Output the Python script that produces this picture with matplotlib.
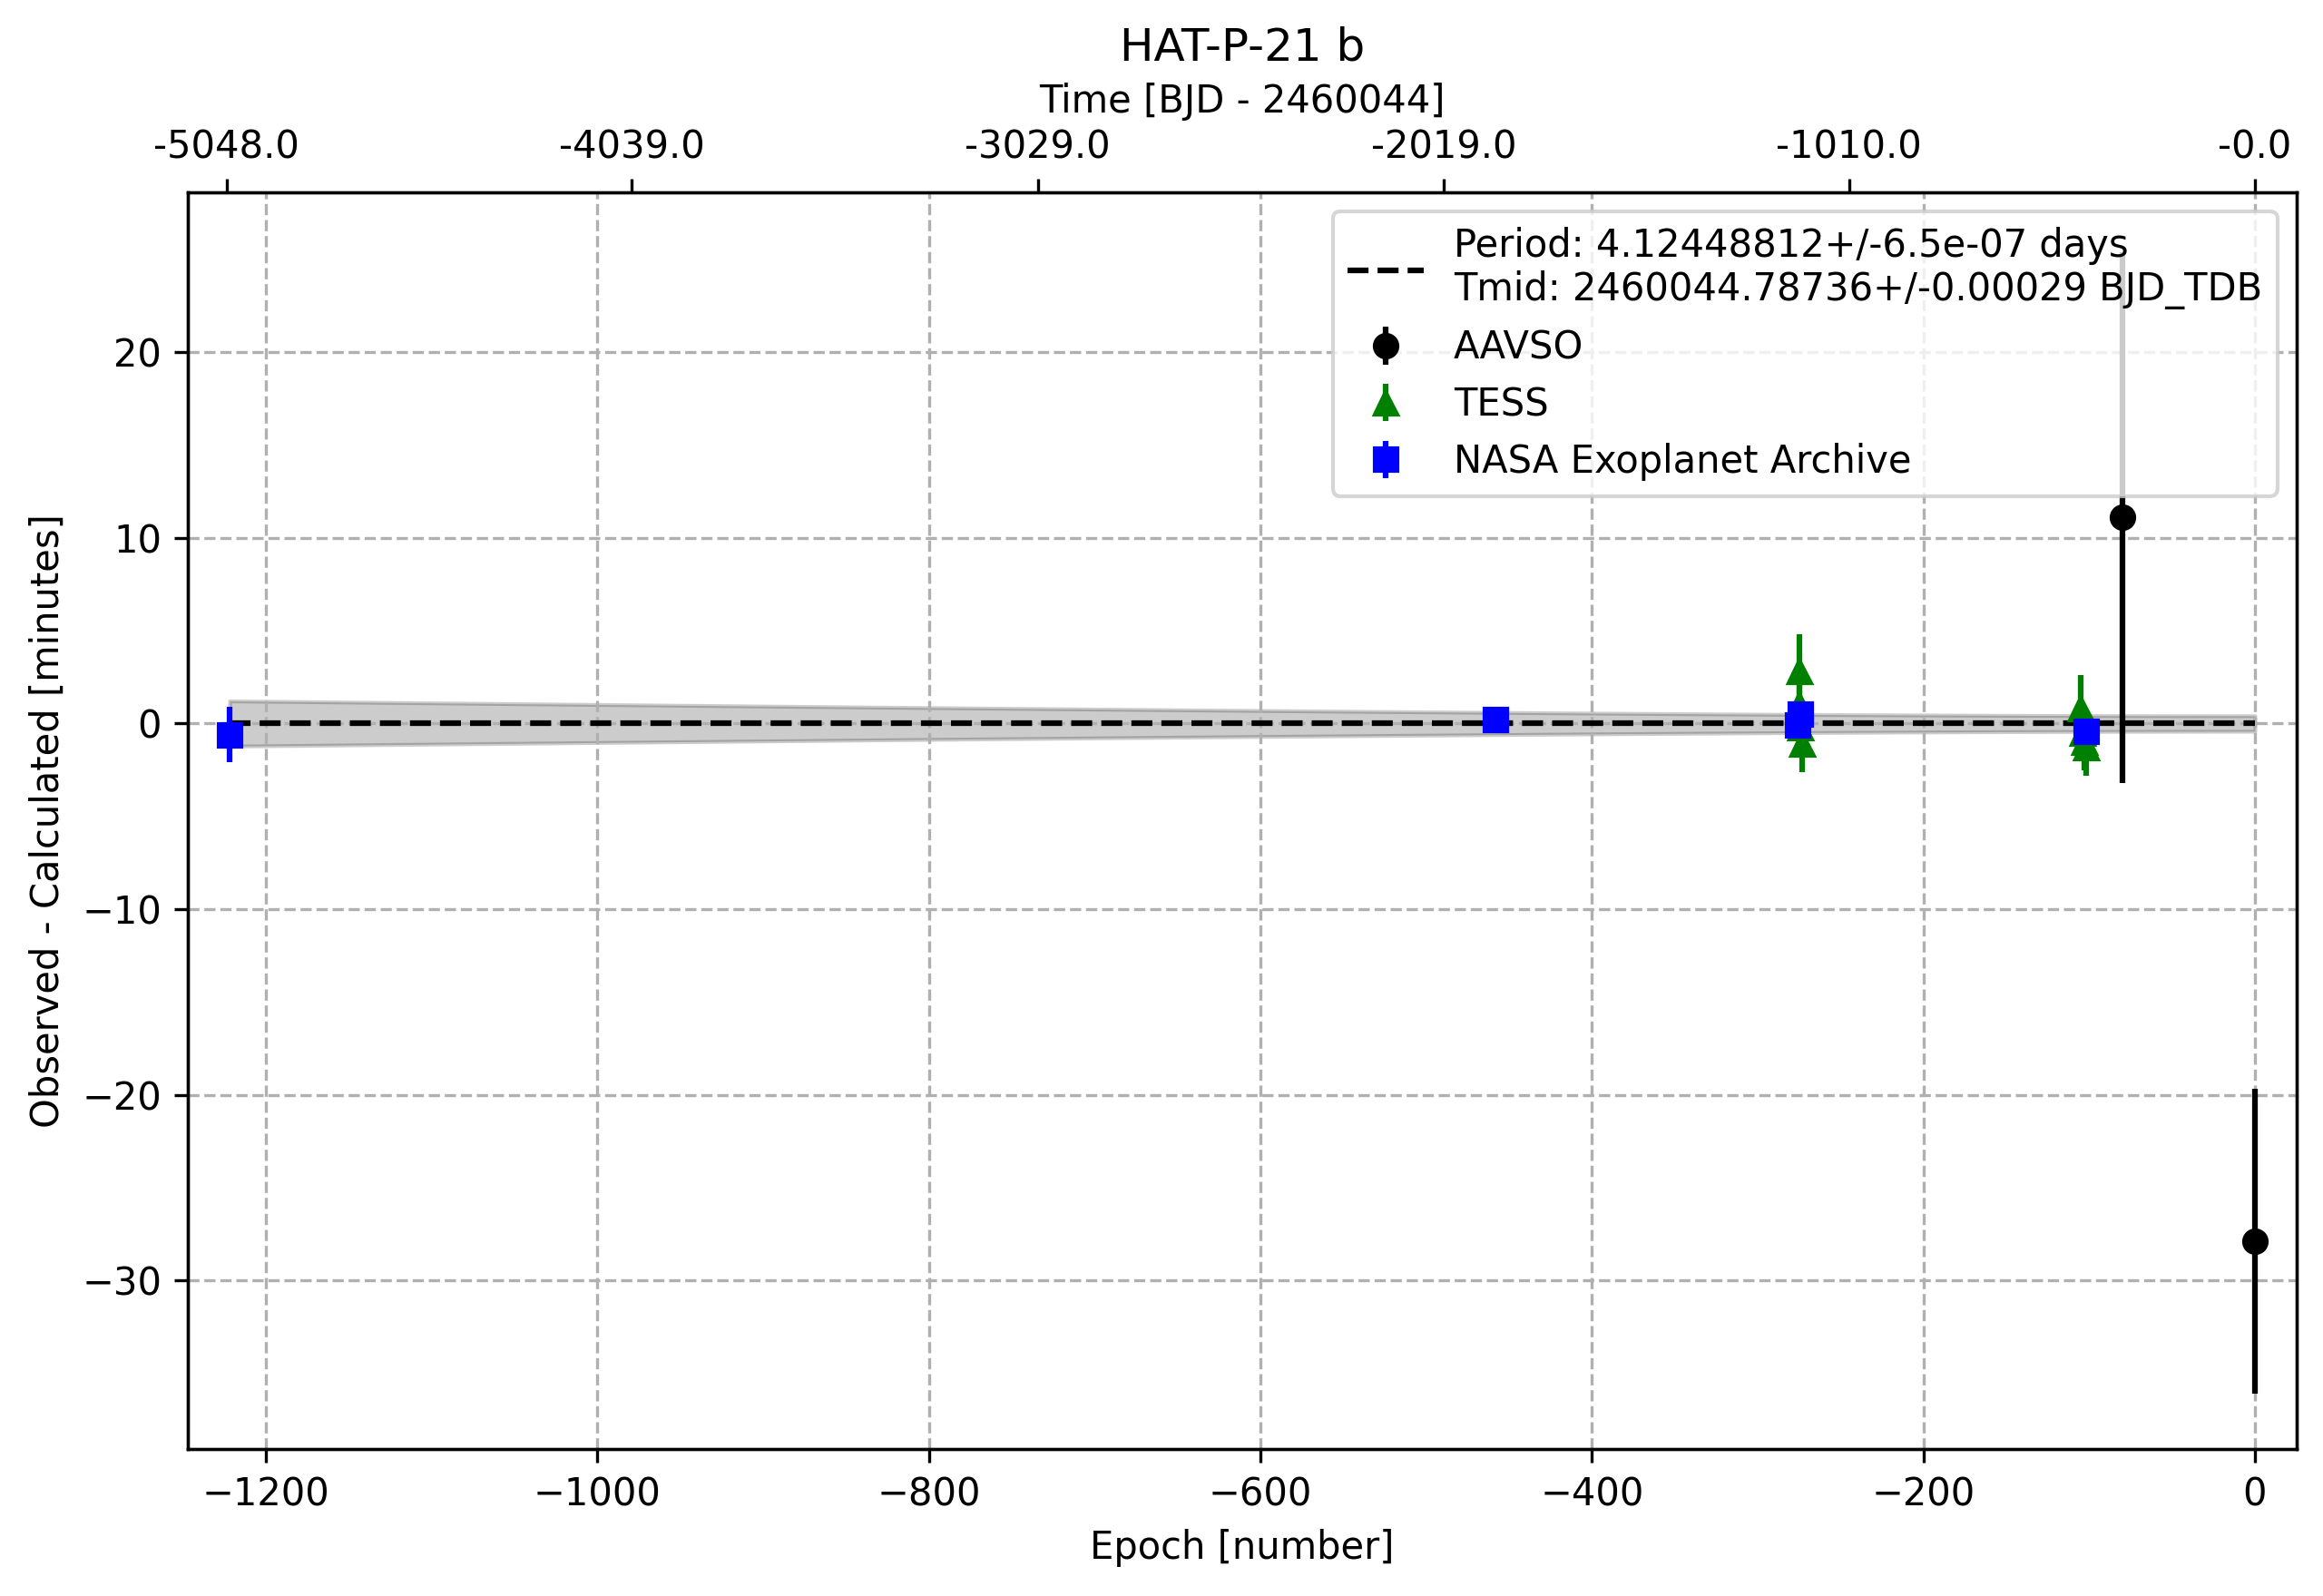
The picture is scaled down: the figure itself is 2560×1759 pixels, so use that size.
import numpy as np
import matplotlib
matplotlib.use("Agg")
import matplotlib.pyplot as plt

P = 4.12448812; P_err = 6.5e-07
Tmid = 2460044.78736; T_err = 0.00029

aavso_ep = [-80, 0]
aavso_oc = [11.1, -27.9]
aavso_err = [14.3, 8.2]

tess_ep = [-275, -275, -274, -273, -105, -104, -103, -102]
tess_oc = [2.8, 1.0, -0.2, -1.1, 0.8, -0.5, -1.0, -1.3]
tess_err = [2.0, 1.5, 1.2, 1.5, 1.8, 1.5, 1.5, 1.5]

nasa_ep = [-1222, -458, -276, -274, -102]
nasa_oc = [-0.6, 0.2, -0.1, 0.5, -0.4]
nasa_err = [1.5, 0.3, 0.4, 0.6, 0.4]

top_labels = [-5048.0, -4039.0, -3029.0, -2019.0, -1010.0, -0.0]

fig = plt.figure(figsize=(2560/300, 1759/300), dpi=300)
ax = fig.add_axes([127/1568, 1-978/1077, 1423/1568, 848/1077])

ep = np.linspace(-1222, 0, 200)
sig = np.sqrt(T_err**2 + (ep*P_err)**2)*24*60
ax.fill_between(ep, -sig, sig, color='k', alpha=0.2)
ax.plot(ep, np.zeros_like(ep), 'k--',
        label=f"Period: {P}+/-{P_err} days\nTmid: {Tmid}+/-{T_err} BJD_TDB")
ax.errorbar(aavso_ep, aavso_oc, yerr=aavso_err, fmt='o', color='black', ls='none', label='AAVSO')
ax.errorbar(tess_ep, tess_oc, yerr=tess_err, fmt='^', color='green', ls='none', label='TESS')
ax.errorbar(nasa_ep, nasa_oc, yerr=nasa_err, fmt='s', color='blue', ls='none', label='NASA Exoplanet Archive')
ax.set_xlim(-1247, 25)
ax.set_ylim(-39.1, 28.6)
ax.grid(True, ls='--')
ax.set_xlabel('Epoch [number]')
ax.set_ylabel('Observed - Calculated [minutes]')
ax.legend(loc='upper right')

ax2 = ax.twiny()
ax2.set_xlim(ax.get_xlim())
ax2.set_xticks([t/P for t in top_labels])
ax2.set_xticklabels([f"{t:.1f}" for t in top_labels])
ax2.set_xlabel('Time [BJD - 2460044]')
ax.set_title('HAT-P-21 b')
fig.savefig('out.png', dpi=300)
